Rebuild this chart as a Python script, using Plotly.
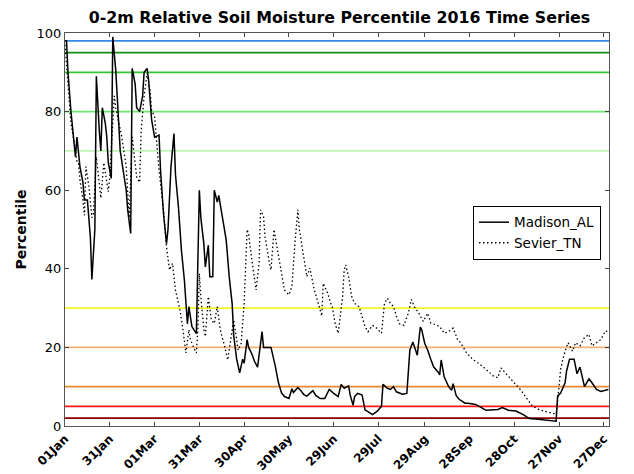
import pandas as pd
import plotly.graph_objects as go

title = "0-2m Relative Soil Moisture Percentile 2016 Time Series"
start_date = "2016-01-01"

madison_day = [0, 1, 2, 4, 7, 8, 10, 12, 13, 15, 17, 18, 20, 21, 23, 24, 25, 27, 28, 29,
               31, 32, 34, 36, 37, 39, 41, 42, 44, 45, 47, 48, 50, 52, 53, 55, 56, 58, 59, 60,
               63, 64, 66, 68, 69, 71, 73, 74, 76, 78, 80, 82, 83, 85, 88, 90, 91, 93, 94, 96,
               97, 99, 100, 102, 103, 106, 108, 110, 112, 113, 115, 117, 119, 120, 122, 123, 125, 127, 129, 132,
               133, 136, 138, 141, 143, 145, 147, 150, 152, 153, 156, 158, 160, 162, 166, 168, 171, 174, 177, 180,
               183, 185, 187, 190, 191, 193, 194, 196, 199, 201, 203, 206, 209, 212, 213, 216, 218, 220, 222, 226,
               229, 231, 233, 236, 238, 239, 241, 243, 245, 247, 250, 251, 252, 254, 257, 259, 260, 262, 264, 268,
               270, 275, 279, 282, 290, 293, 297, 302, 307, 311, 317, 323, 329, 330, 332, 335, 336, 338, 341, 343,
               345, 348, 351, 353, 356, 359, 364]
madison_val = [98, 98, 90, 80, 68.5, 73.5, 66, 62, 57.5, 57.5, 48, 37.3, 50, 89, 75, 70, 81, 77, 73.5, 67,
               63, 99, 90.5, 75, 70, 65, 60, 55, 49, 91, 87, 81, 80, 84, 90, 91, 88, 78, 76, 73.5,
               74, 65, 54, 46.4, 50, 66, 74.4, 64, 55.7, 44.7, 37, 26, 30.4, 25.3, 23.5, 60, 53, 46.4, 40.5, 46,
               38, 38, 60, 57, 58.7, 51.5, 47.3, 38, 31, 23, 17, 13.5, 17, 16, 22, 20, 18.5, 16.4, 15, 24,
               20, 20, 20, 15, 11, 8.5, 7.5, 7, 9.5, 8.5, 9.8, 9, 8, 7.6, 9, 7.8, 7, 7, 9.3, 8.3,
               7.5, 10.6, 9.6, 10.2, 7.9, 5.3, 7.5, 8.3, 7.9, 4.1, 3.7, 2.9, 3.7, 5, 10.6, 9.6, 9.3, 10, 8.7, 8.1,
               8.3, 19.3, 21.4, 18, 25.2, 24.4, 21, 19.3, 17, 15, 13.7, 13, 16.8, 12.5, 10, 9.1, 10.8, 7.8, 6.8, 5.8,
               5.8, 5.5, 4.7, 4, 4.2, 4.7, 4, 3.8, 2.9, 1.9, 1.7, 1.4, 1.2, 7.6, 8.4, 11, 14, 17, 17, 13.3,
               15, 10, 12, 11, 9.3, 8.8, 9.3]

sevier_day = [0, 1, 3, 4, 6, 8, 9, 10, 12, 13, 14, 16, 18, 19, 21, 22, 24, 26, 27, 29,
              30, 32, 33, 34, 38, 41, 43, 45, 47, 48, 50, 51, 53, 55, 57, 58, 60, 61, 63, 66,
              68, 70, 72, 74, 77, 79, 81, 83, 84, 87, 88, 89, 90, 91, 93, 94, 96, 98, 100, 102,
              104, 107, 109, 111, 113, 114, 116, 118, 120, 122, 123, 124, 126, 128, 130, 131, 133, 134, 137, 138,
              140, 142, 145, 147, 150, 152, 154, 156, 157, 160, 162, 164, 167, 169, 172, 173, 176, 178, 179, 181,
              183, 186, 187, 188, 190, 192, 194, 197, 199, 201, 203, 206, 208, 210, 212, 214, 216, 218, 220, 222,
              224, 227, 230, 232, 234, 237, 240, 243, 245, 248, 251, 254, 257, 260, 263, 265, 269, 273, 278, 282,
              287, 290, 292, 295, 300, 305, 309, 313, 318, 323, 329, 331, 332, 334, 337, 340, 342, 345, 348, 351,
              353, 356, 359, 362, 364]
sevier_val = [97, 92, 84, 77, 72.5, 67.3, 67, 62.7, 57.5, 53.6, 66, 61, 53, 54, 68.5, 65, 58, 67, 64.3, 59.6,
              63.4, 75.3, 84, 81, 73.6, 66, 53, 73.6, 67.6, 63.4, 62, 75, 84, 89.7, 85.5, 80.4, 78.7, 73.6, 65, 55,
              45.6, 39.7, 41.4, 34.6, 29.6, 24.5, 18.6, 24.5, 22, 19.3, 18.6, 24.5, 38.8, 32.9, 24.5, 22.8, 32.9, 27, 26.1, 30.4,
              24.5, 20.2, 16.8, 21.9, 27, 24.5, 19.3, 21, 31.2, 50, 49, 45.6, 39.7, 34.6, 41.4, 55, 53.3, 48.2, 41.4, 39.7,
              50, 45.6, 39.7, 34.6, 33.4, 35.5, 46.4, 55, 50, 43, 38, 40.2, 34.6, 32.1, 28, 36.3, 33.8, 31.2, 30.4, 26,
              23.6, 33, 39.7, 41, 38, 33, 31.2, 30.4, 28, 25.3, 24, 25.6, 25.2, 24.4, 23.6, 31.2, 32.5, 31.2, 30.4, 28,
              26, 25.6, 28.7, 32.2, 30.4, 28.7, 26.6, 28.7, 26.2, 25.8, 25.3, 23.6, 24, 24.9, 22, 21.2, 18.6, 17, 15.7, 14.4,
              12.7, 12.3, 14.8, 13.5, 11.4, 9.3, 7.2, 5.1, 4.1, 3.6, 3, 10.2, 14.4, 17.8, 21.2, 19, 21.2, 20.4, 22.5, 23.3,
              20.4, 21.2, 22, 24.2, 24]

ref_levels = [2, 5, 10, 20, 30, 70, 80, 90, 95, 98]
ref_colors = ["#8b0000", "#ff1a1a", "#ee8833", "#f8b070", "#f5f520",
              "#bff5b5", "#6fe86f", "#33c433", "#139013", "#3a88e6"]

tick_dates = ["2016-01-01", "2016-01-31", "2016-03-01", "2016-03-31", "2016-04-30", "2016-05-30",
              "2016-06-29", "2016-07-29", "2016-08-29", "2016-09-28", "2016-10-28", "2016-11-27", "2016-12-27"]
tick_labels = ["01Jan", "31Jan", "01Mar", "31Mar", "30Apr", "30May",
               "29Jun", "29Jul", "29Aug", "28Sep", "28Oct", "27Nov", "27Dec"]

base = pd.Timestamp(start_date)
mad_x = [base + pd.Timedelta(days=d) for d in madison_day]
sev_x = [base + pd.Timedelta(days=d) for d in sevier_day]

fig = go.Figure()
for lvl, col in zip(ref_levels, ref_colors):
    fig.add_shape(type="line", xref="paper", x0=0, x1=1, yref="y", y0=lvl, y1=lvl,
                  line=dict(color=col, width=1.8), layer="below")

fig.add_trace(go.Scatter(x=mad_x, y=madison_val, mode="lines", name="Madison_AL",
                         line=dict(color="black", width=1.5)))
fig.add_trace(go.Scatter(x=sev_x, y=sevier_val, mode="lines", name="Sevier_TN",
                         line=dict(color="black", width=1.3, dash="1.5px,2.5px")))

# the page body adds an 8px offset, so the figure is 8px smaller
W, H = 626, 466
font_family = "DejaVu Sans"
fig.update_layout(
    width=W, height=H,
    margin=dict(l=57, r=25, t=25, b=48, autoexpand=False),
    paper_bgcolor="white", plot_bgcolor="white",
    font=dict(family=font_family, color="black"),
    title=dict(text="<b>" + title + "</b>", x=331.5 / W, xanchor="center",
               yref="container", y=1 - 9 / H, yanchor="middle", automargin=False,
               font=dict(size=15.8, family=font_family)),
    showlegend=True,
    legend=dict(x=0.75, y=0.56, xanchor="left", yanchor="top",
                bordercolor="black", borderwidth=1, bgcolor="white",
                font=dict(size=13.5, family=font_family), tracegroupgap=0,
                itemwidth=30),
)
fig.update_xaxes(
    type="date", range=["2016-01-01", "2016-12-30 10:00"], automargin=False,
    tickmode="array", tickvals=tick_dates, ticktext=["<b>" + t + "</b>" for t in tick_labels],
    tickangle=-45, tickfont=dict(size=12, family=font_family),
    ticks="inside", ticklen=4, tickcolor="#444",
    showline=True, linecolor="#555", linewidth=1, mirror="ticks",
    showgrid=False, zeroline=False,
)
fig.update_yaxes(
    range=[0, 100], tickvals=[0, 20, 40, 60, 80, 100], automargin=False,
    tickfont=dict(size=13, family=font_family),
    ticks="inside", ticklen=4, tickcolor="#444",
    showline=True, linecolor="#555", linewidth=1, mirror="ticks",
    showgrid=False, zeroline=False,
    title=dict(text="<b>Percentile</b>", font=dict(size=14, family=font_family), standoff=6),
)

fig.write_html("out.html")
